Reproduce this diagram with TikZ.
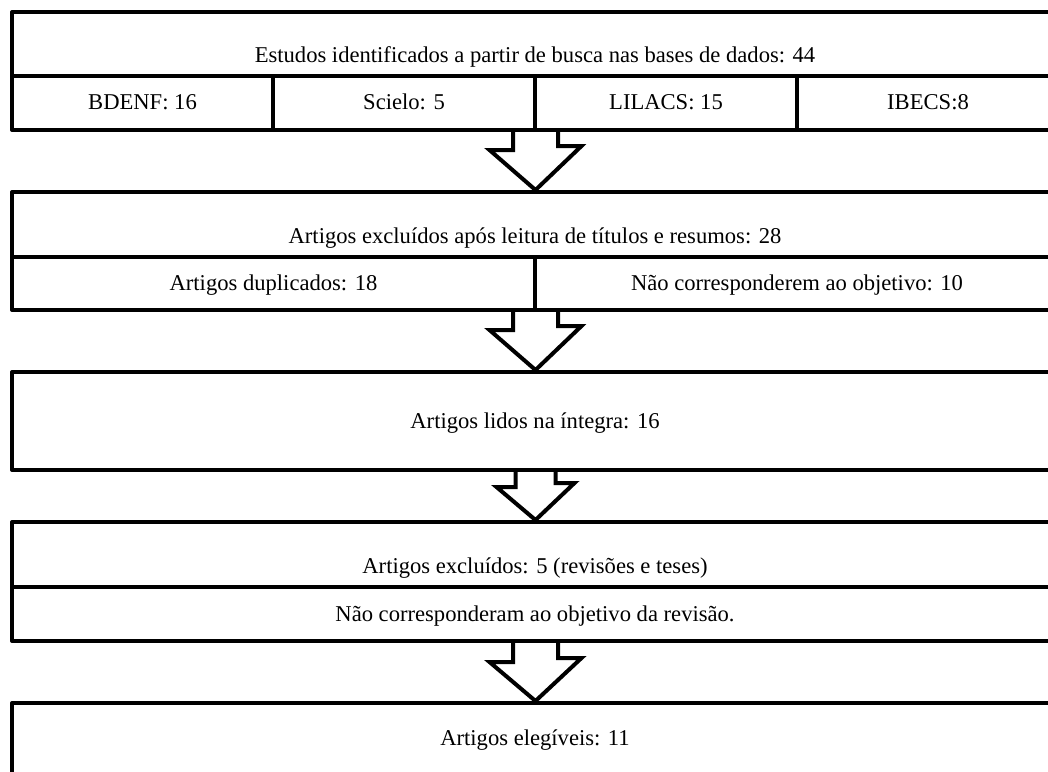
\documentclass[tikz,border=0pt]{standalone}
\usepackage{fontspec}
\setmainfont{Liberation Serif}
\usetikzlibrary{calc}
\begin{document}
\begin{tikzpicture}[x=1pt,y=-1pt,
  box/.style={draw=black,line width=4pt,line join=round,rectangle,inner sep=0pt,minimum width=1047pt},
  divline/.style={draw=black,line width=4pt},
  txt/.style={anchor=base,inner sep=0pt,font=\fontsize{22.6}{27}\selectfont},
  barrow/.style={draw=black,line width=4pt,line join=miter}]
\useasboundingbox (0,0) rectangle (1048,771);
\clip (0,0) rectangle (1048,771);
% boxes
\node[box,minimum height=118pt] (b1) at (535.5,71) {};
\node[box,minimum height=118pt] (b2) at (535.5,251) {};
\node[box,minimum height=98pt] (b3) at (535.5,421) {};
\node[box,minimum height=119pt] (b4) at (535.5,581.5) {};
\node[box,minimum height=120pt] (b5) at (535.5,763) {};
% dividers box 1
\draw[divline] (12,76) -- (1059,76);
\draw[divline] (273,76) -- (273,130);
\draw[divline] (535,76) -- (535,130);
\draw[divline] (797,76) -- (797,130);
% dividers box 2
\draw[divline] (12,257) -- (1059,257);
\draw[divline] (535,257) -- (535,310);
% divider box 4
\draw[divline] (12,587) -- (1059,587);
% texts
\node[txt] (t1) at (535,62) {Estudos identificados a partir de busca nas bases de dados: 44};
\node[txt] (c1) at (142.5,109) {BDENF: 16};
\node[txt] (c2) at (404,109) {Scielo: 5};
\node[txt] (c3) at (666,109) {LILACS: 15};
\node[txt] (c4) at (928,109) {IBECS:8};
\node[txt] (t2) at (535,243) {Artigos excluídos após leitura de títulos e resumos: 28};
\node[txt] (c5) at (273.5,290) {Artigos duplicados: 18};
\node[txt] (c6) at (797,290) {Não corresponderem ao objetivo: 10};
\node[txt] (t3) at (535,428) {Artigos lidos na íntegra: 16};
\node[txt] (t4) at (535,573) {Artigos excluídos: 5 (revisões e teses)};
\node[txt] (t5) at (535,621) {Não corresponderam ao objetivo da revisão.};
\node[txt] (t6) at (535,745) {Artigos elegíveis: 11};
% block arrows
\draw[barrow] ([xshift=-22.5pt]b1.south) -- ++(0,18) -- ++(-23.5,0) -- (b2.north) -- ++(46,-44) -- ++(-23.5,0) -- ++(0,-18);
\draw[barrow] ([xshift=-22.5pt]b2.south) -- ++(0,18) -- ++(-23.5,0) -- (b3.north) -- ++(46,-44) -- ++(-23.5,0) -- ++(0,-18);
\draw[barrow] ([xshift=-20pt]b3.south) -- ++(0,15) -- ++(-19,0) -- (b4.north) -- ++(39,-37) -- ++(-19,0) -- ++(0,-15);
\draw[barrow] ([xshift=-22.5pt]b4.south) -- ++(0,19) -- ++(-23.5,0) -- (b5.north) -- ++(46,-43) -- ++(-23.5,0) -- ++(0,-19);
\end{tikzpicture}
\end{document}
